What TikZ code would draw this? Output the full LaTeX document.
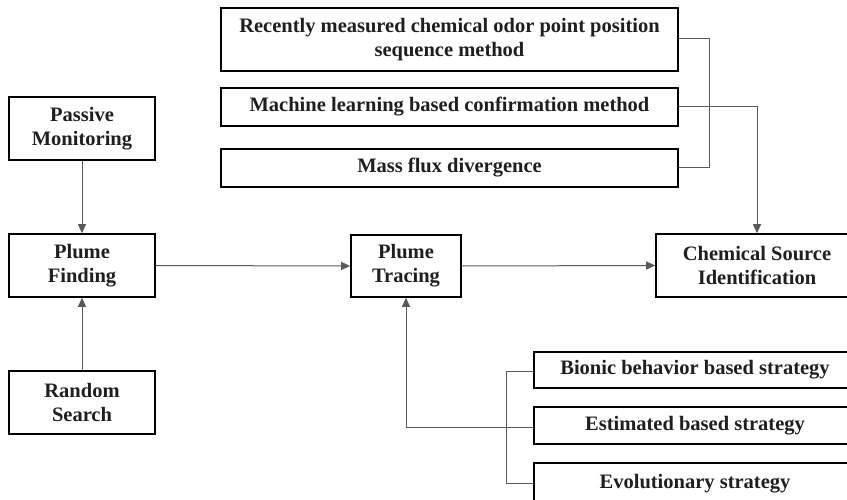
\documentclass[tikz,border=0pt]{standalone}
\usepackage{fontspec}
\setmainfont{Liberation Serif}
\usetikzlibrary{arrows.meta,calc}
\begin{document}
\begin{tikzpicture}[x=1pt,y=-1pt,
  box/.style={draw=black,line width=1.6pt,inner sep=0pt,align=center,
    font=\fontsize{20.5}{24}\selectfont\bfseries,text=black!88},
  conn/.style={draw=black!65,line width=1pt},
  arr/.style={conn,-{Triangle[length=9pt,width=8pt]},shorten >=0pt}]
\useasboundingbox (0,0) rectangle (847,500);
\clip (0,0) rectangle (847,500);
% boxes
\node[box,minimum width=457pt,minimum height=63pt] (r1) at (449.5,39.5) {Recently measured chemical odor point position\\sequence method};
\node[box,minimum width=457pt,minimum height=38pt] (r2) at (449.5,107) {Machine learning based confirmation method};
\node[box,minimum width=457pt,minimum height=38pt] (r3) at (449.5,168) {Mass flux divergence};
\node[box,minimum width=146pt,minimum height=63pt] (pm) at (82,128.5) {Passive\\Monitoring};
\node[box,minimum width=146pt,minimum height=63pt] (pf) at (82,265.5) {Plume\\Finding};
\node[box,minimum width=146pt,minimum height=63pt] (rs) at (82,402.5) {Random\\Search};
\node[box,minimum width=110pt,minimum height=62pt] (pt) at (406,266) {Plume\\Tracing};
\node[box,minimum width=202pt,minimum height=63pt] (csi) at (757,265.5) {Chemical Source\\Identification};
\node[box,minimum width=322pt,minimum height=36pt] (b1) at (695,370) {Bionic behavior based strategy};
\node[box,minimum width=322pt,minimum height=37pt] (b2) at (695,425.5) {Estimated based strategy};
\node[box,minimum width=322pt,minimum height=41pt] (b3) at (695,483.5) {Evolutionary strategy};
% connectors
\draw[arr] (pm.south) -- (pf.north);
\draw[arr] (rs.north) -- (pf.south);
\draw[arr] (pf.east) -- (pt.west);
\draw[arr] (pt.east) -- (csi.west);
\coordinate (ra) at (709,39);
\coordinate (rb) at (709,168);
\draw[conn] (r1.east |- ra) -- (ra) -- (rb) -- (r3.east);
\coordinate (rc) at (757,107);
\draw[arr] (r2.east) -- (rc) -- (csi.north);
\coordinate (ba) at (506,371);
\coordinate (bb) at (506,483);
\draw[conn] (b1.west |- ba) -- (ba) -- (bb) -- (b3.west |- bb);
\coordinate (bc) at (406,427);
\draw[arr] (b2.west |- bc) -- (bc) -- (pt.south);
\end{tikzpicture}
\end{document}
